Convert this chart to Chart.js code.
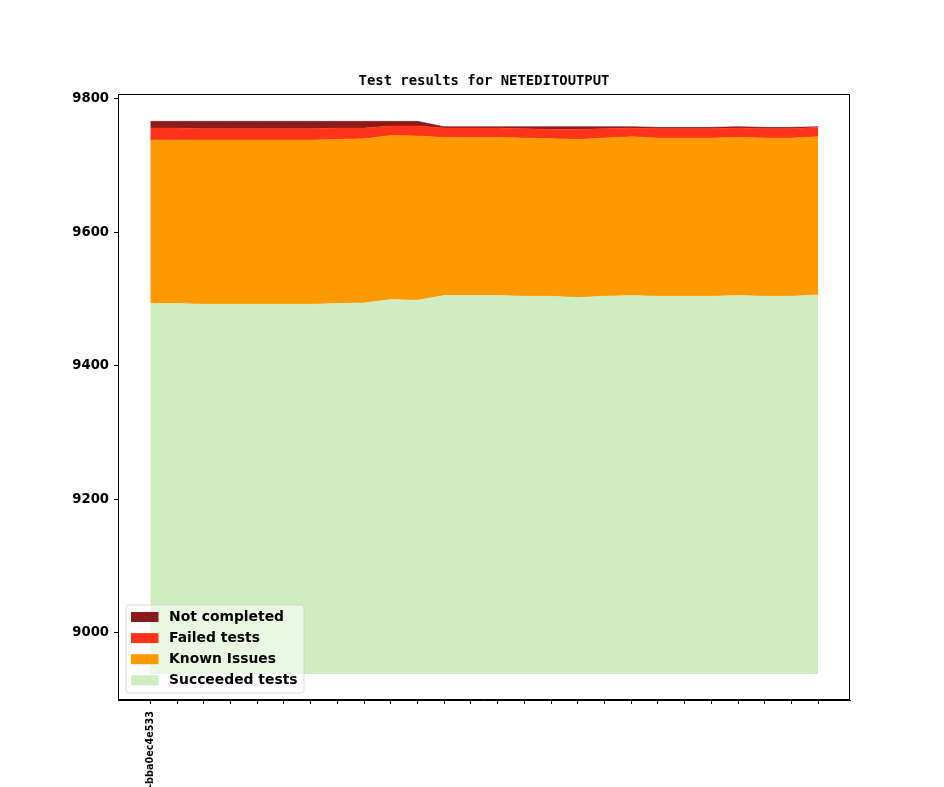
<!DOCTYPE html>
<html>
<head>
<meta charset="utf-8">
<script src="https://cdn.jsdelivr.net/npm/chart.js@4.4.1/dist/chart.umd.min.js"></script>
<style>
  html, body { margin: 0; padding: 0; background: #ffffff; }
  #wrap { width: 944px; height: 787px; }
</style>
</head>
<body>
<div id="wrap"><canvas id="c" width="944" height="787"></canvas></div>
<script>
// ---- data ----
const commitLabels = ['-bba0ec4e533','','','','','','','','','','','','','','','','','','','','','','','','',''];
const succeeded  = [9493,9493,9492,9492,9492,9492,9492,9493,9494,9499,9498,9505,9505,9505,9504,9504,9502,9504,9505,9504,9504,9504,9505,9504,9504,9506];
const knownIssues = [245,245,246,246,246,246,246,246,246,246,246,237,237,237,237,236,237,237,238,237,237,237,237,237,237,237];
const failedTests = [18,18,17,17,17,17,17,17,16,14,15,14,14,14,14,14,15,14,13,14,14,14,14,14,14,14];
const notCompleted = [10,10,11,11,11,11,11,10,10,7,7,2,2,2,3,4,4,3,2,2,2,2,2,2,2,1];
const yTicks = [9000, 9200, 9400, 9600, 9800];
const baseline = 8938;
const chartTitle = 'Test results for NETEDITOUTPUT';

const seriesNames = ['Succeeded tests', 'Known Issues', 'Failed tests', 'Not completed'];
const seriesColors = ['#cfedc0', '#ff9900', '#ff3319', '#8b1a1a'];
const seriesValues = [succeeded, knownIssues, failedTests, notCompleted];

// cumulative stacking built from the arrays
const cumulative = [];
seriesValues.forEach((vals, si) => {
  cumulative.push(vals.map((v, i) => (si === 0 ? 0 : cumulative[si - 1][i]) + v));
});

const datasets = seriesValues.map((vals, si) => ({
  label: seriesNames[si],
  data: cumulative[si].map((y, i) => ({ x: i, y })),
  backgroundColor: seriesColors[si],
  borderColor: seriesColors[si],
  borderWidth: 0.6,
  pointRadius: 0,
  tension: 0,
  fill: si === 0 ? { value: baseline } : '-1'
}));

const FONT = "'DejaVu Sans', 'Liberation Sans', sans-serif";

const decorPlugin = {
  id: 'decor',
  afterDraw(chart) {
    const ctx = chart.ctx;
    const a = chart.chartArea;
    ctx.save();
    // frame
    ctx.strokeStyle = '#000';
    ctx.lineWidth = 1;
    ctx.strokeRect(Math.round(a.left) + 0.5, Math.round(a.top) + 0.5, Math.round(a.right - a.left) - 1, Math.round(a.bottom - a.top) - 1);
    // title
    ctx.fillStyle = '#000';
    ctx.font = "bold 13.9px 'DejaVu Sans Mono', 'Liberation Mono', monospace";
    ctx.textAlign = 'center';
    ctx.textBaseline = 'middle';
    ctx.fillText(chartTitle, (a.left + a.right) / 2, 81);
    // legend
    const lx = 126, ly = 605, lw = 178, lh = 88, r = 3;
    ctx.beginPath();
    ctx.moveTo(lx + r, ly);
    ctx.lineTo(lx + lw - r, ly);
    ctx.quadraticCurveTo(lx + lw, ly, lx + lw, ly + r);
    ctx.lineTo(lx + lw, ly + lh - r);
    ctx.quadraticCurveTo(lx + lw, ly + lh, lx + lw - r, ly + lh);
    ctx.lineTo(lx + r, ly + lh);
    ctx.quadraticCurveTo(lx, ly + lh, lx, ly + lh - r);
    ctx.lineTo(lx, ly + r);
    ctx.quadraticCurveTo(lx, ly, lx + r, ly);
    ctx.closePath();
    ctx.fillStyle = 'rgba(255,255,255,0.55)';
    ctx.fill();
    ctx.strokeStyle = 'rgba(204,204,204,0.7)';
    ctx.lineWidth = 1;
    ctx.stroke();
    ctx.font = 'bold 13.9px ' + FONT;
    ctx.textAlign = 'left';
    ctx.textBaseline = 'middle';
    const order = chart.data.datasets.map((d, i) => i).reverse();
    order.forEach((di, row) => {
      const ds = chart.data.datasets[di];
      const cy = 617 + row * 21.1;
      ctx.fillStyle = ds.backgroundColor;
      ctx.fillRect(131, cy - 5, 27.5, 10);
      ctx.fillStyle = '#000';
      ctx.fillText(ds.label, 169, cy + 0.5);
    });
    ctx.restore();
  }
};

new Chart(document.getElementById('c'), {
  type: 'line',
  data: { datasets },
  plugins: [decorPlugin],
  options: {
    responsive: false,
    animation: false,
    devicePixelRatio: 1,
    layout: { padding: { top: 94, right: 94, left: 0, bottom: 0 } },
    plugins: {
      legend: { display: false },
      title: { display: false },
      tooltip: { enabled: false }
    },
    scales: {
      x: {
        type: 'linear',
        min: -1.21,
        max: 26.19,
        afterBuildTicks(scale) {
          scale.ticks = commitLabels.map((l, i) => ({ value: i }));
        },
        afterFit(scale) { scale.height = 87; },
        ticks: {
          autoSkip: false,
          minRotation: 90,
          maxRotation: 90,
          padding: 7,
          color: '#000',
          font: { family: FONT, size: 9.7, weight: 'bold' },
          callback: (v) => commitLabels[v] !== undefined ? commitLabels[v] : ''
        },
        grid: { drawOnChartArea: false, drawTicks: true, tickLength: 4, color: '#000' },
        border: { display: true, color: '#000', width: 1 }
      },
      y: {
        type: 'linear',
        min: 8899,
        max: 9807,
        afterBuildTicks(scale) {
          scale.ticks = yTicks.map(v => ({ value: v }));
        },
        afterFit(scale) { scale.width = 118; },
        ticks: {
          padding: 5,
          color: '#000',
          font: { family: FONT, size: 13.2, weight: 'bold' },
          callback: (v) => String(v)
        },
        grid: { drawOnChartArea: false, drawTicks: true, tickLength: 4, color: '#000' },
        border: { display: true, color: '#000', width: 1 }
      }
    }
  }
});
</script>
</body>
</html>
